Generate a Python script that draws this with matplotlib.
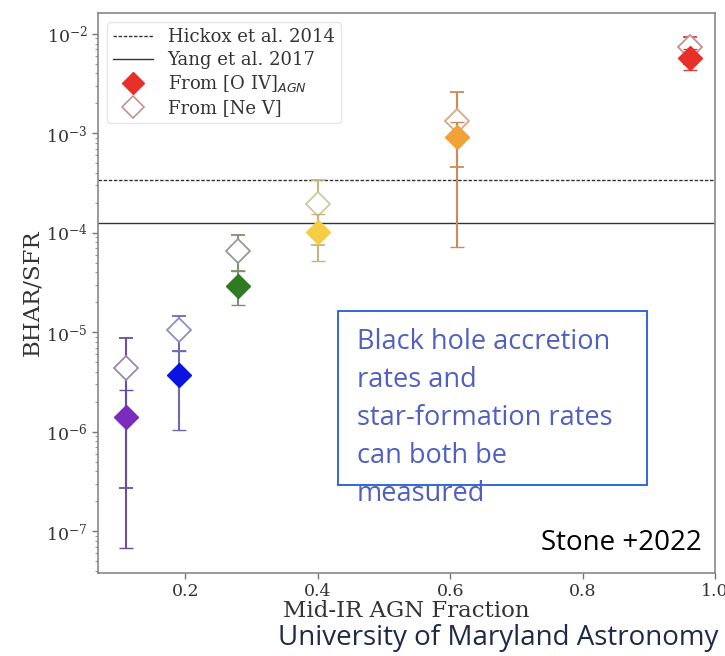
import matplotlib
matplotlib.use("Agg")
import matplotlib.pyplot as plt
from matplotlib.lines import Line2D
from matplotlib.patches import Rectangle

# ---- data ----
agn_frac = [0.11, 0.19, 0.28, 0.40, 0.61, 0.962]
oiv = [1.4e-6, 3.7e-6, 2.95e-5, 1.02e-4, 9.1e-4, 5.7e-3]
oiv_lo = [6.8e-8, 1.03e-6, 1.9e-5, 5.2e-5, 7.2e-5, 4.3e-3]
oiv_hi = [2.6e-6, 6.5e-6, 4.1e-5, 1.55e-4, 1.3e-3, 7.0e-3]
nev = [4.4e-6, 1.05e-5, 6.6e-5, 1.95e-4, 1.32e-3, 7.4e-3]
nev_lo = [2.7e-7, 6.5e-6, 4.1e-5, 7.6e-5, 4.6e-4, 5.0e-3]
nev_hi = [8.8e-6, 1.47e-5, 9.6e-5, 3.4e-4, 2.6e-3, 9.3e-3]
hickox = 3.4e-4
yang = 1.26e-4
x_ticks = [0.2, 0.4, 0.6, 0.8, 1.0]
x_tick_labels = ["0.2", "0.4", "0.6", "0.8", "1.0"]

fill_colors = ["#7b2cbf", "#0a14e0", "#2f7a22", "#f5cd45", "#f0a238", "#e8302a"]
bar_colors = ["#6a4f9e", "#6a6ab8", "#7d9070", "#c8b480", "#cf8a5a", "#d04545"]
open_edges = ["#9a88b0", "#9090c0", "#90a090", "#d0c8a0", "#d8a888", "#c89090"]

fig = plt.figure(figsize=(7.25, 6.56), dpi=100)
W, H = 725, 656
ax = fig.add_axes([98 / W, 1 - 573 / H, (715 - 98) / W, (573 - 13) / H])

serif = "DejaVu Serif"

for i, x in enumerate(agn_frac):
    ax.errorbar([x], [nev[i]], yerr=[[nev[i] - nev_lo[i]], [nev_hi[i] - nev[i]]],
                fmt="D", ms=12.5, mfc="white", mec=open_edges[i], mew=1.3,
                ecolor=bar_colors[i], elinewidth=1.5, capsize=5, capthick=1.2, zorder=3)
    ax.errorbar([x], [oiv[i]], yerr=[[oiv[i] - oiv_lo[i]], [oiv_hi[i] - oiv[i]]],
                fmt="D", ms=12.5, mfc=fill_colors[i], mec=fill_colors[i], mew=1,
                ecolor=bar_colors[i], elinewidth=1.5, capsize=5, capthick=1.2, zorder=4)

ax.axhline(hickox, color="#333333", lw=1.0, ls=(0, (2.5, 1.2)))
ax.axhline(yang, color="#333333", lw=1.0, ls="-")

ax.set_yscale("log")
ax.set_xlim(0.068, 1.0)
ax.set_ylim(10 ** -7.42, 10 ** -1.79)
ax.set_xticks(x_ticks)
ax.set_xticklabels(x_tick_labels)
ax.tick_params(axis="both", which="major", length=4, width=1, color="#777777",
               labelsize=12.5, labelcolor="#333333", direction="out")
ax.tick_params(axis="y", which="minor", length=2, width=0.8, color="#999999")
for lab in ax.get_xticklabels() + ax.get_yticklabels():
    lab.set_fontfamily(serif)
for s in ax.spines.values():
    s.set_color("#888888")
    s.set_linewidth(1.2)

ax.set_xlabel("Mid-IR AGN Fraction", fontfamily=serif, fontsize=16.5, color="#333333", labelpad=0)
ax.set_ylabel("BHAR/SFR", fontfamily=serif, fontsize=16.5, color="#333333", labelpad=2)

handles = [
    Line2D([], [], color="#333333", lw=1.0, ls=(0, (2.5, 1.2))),
    Line2D([], [], color="#333333", lw=1.0),
    Line2D([], [], marker="D", ls="", ms=11, mfc="#e8302a", mec="#e8302a"),
    Line2D([], [], marker="D", ls="", ms=11, mfc="white", mec="#c89090", mew=1.2),
]
labels = ["Hickox et al. 2014", "Yang et al. 2017", r"From [O IV]$_{AGN}$", "From [Ne V]"]
leg = ax.legend(handles, labels, loc="upper left", prop={"family": serif, "size": 13},
                frameon=True, framealpha=1, edgecolor="#e6e6e6", borderaxespad=0.5,
                handlelength=2.2, labelspacing=0.25, borderpad=0.35)
for t in leg.get_texts():
    t.set_color("#333333")

# annotations
box_l, box_t, box_r, box_b = 338, 311, 647, 485
fig.patches.append(Rectangle((box_l / W, 1 - box_b / H), (box_r - box_l) / W, (box_b - box_t) / H,
                             transform=fig.transFigure, fill=False, edgecolor="#1f5fd0", lw=1.3, zorder=5))
lines = ["Black hole accretion", "rates and", "star-formation rates", "can both be", "measured"]
for k, txt in enumerate(lines):
    fig.text(357 / W, 1 - (342 + 38 * k) / H, txt, fontsize=19.5, family="Open Sans",
             color="#5060c0", va="center", ha="left", zorder=6)

fig.text(702 / W, 1 - 543 / H, "Stone +2022", fontsize=20, family="Open Sans",
         color="black", ha="right", va="center")
fig.text(718 / W, 1 - 638 / H, "University of Maryland Astronomy", fontsize=20,
         family="Open Sans", color="#1f2a4a", ha="right", va="center")

fig.savefig("out.png", dpi=100)
